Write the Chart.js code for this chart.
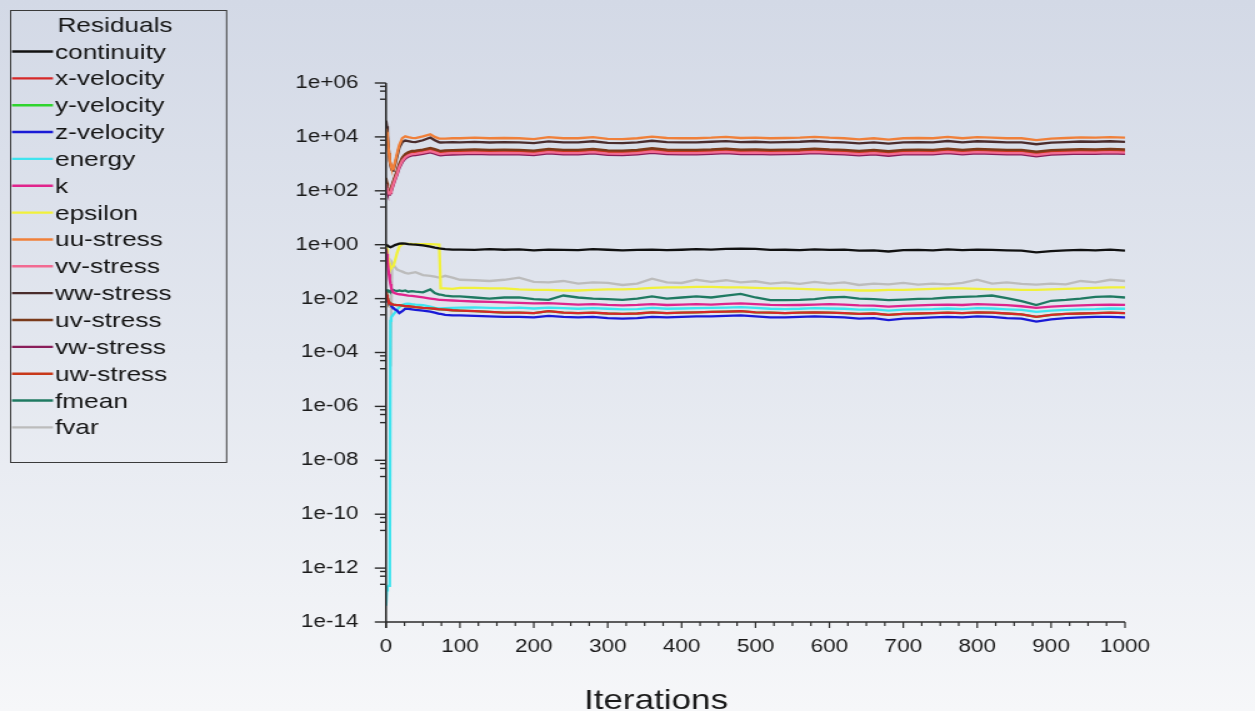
<!DOCTYPE html>
<html>
<head>
<meta charset="utf-8">
<title>Residuals</title>
<script src="https://cdn.jsdelivr.net/npm/chart.js@4.4.1/dist/chart.umd.min.js"></script>
<style>
  html, body {
    margin: 0;
    padding: 0;
    width: 1255px;
    height: 711px;
    overflow: hidden;
    background: linear-gradient(to bottom, #d3d9e6 0%, #e3e7ef 50%, #f6f7f9 100%);
  }
  canvas { display: block; }
</style>
</head>
<body>
<!-- the plot is laid out on a 1004px-wide bitmap and shown 1255px wide -->
<canvas id="plot" width="1004" height="711" style="width:1255px;height:711px"></canvas>
<script>
// ---- iteration numbers at which residuals are sampled ----
const iterations = [0,1,2,3,4,5,6,7,8,10,12,15,18,22,26,30,35,40,50,60,66,72,74,80,90,
  100,120,140,160,180,200,220,240,260,280,300,320,340,360,380,400,420,440,460,480,500,
  520,540,560,580,600,620,640,660,680,700,720,740,760,780,800,820,840,860,880,900,920,940,960,980,1000];

// ---- residual histories ----
const continuity = [1.0,0.97,0.93,0.88,0.85,0.83,0.82,0.82,0.84,0.9,0.97,1.03,1.1,1.12,1.1,1.05,1.02,1.0,0.95,0.85,0.78,0.73,0.72,0.68,0.66,
  0.66,0.64,0.68,0.65,0.67,0.62,0.66,0.64,0.63,0.68,0.65,0.62,0.64,0.66,0.63,0.65,0.68,0.66,0.70,0.72,0.70,0.64,0.65,0.63,0.67,
  0.64,0.66,0.60,0.62,0.56,0.63,0.64,0.62,0.67,0.63,0.66,0.64,0.62,0.60,0.52,0.58,0.62,0.64,0.62,0.66,0.60];
const xVelocity = [0.018,0.014,0.011,0.009,0.0075,0.007,0.0067,0.0065,0.0063,0.006,0.0058,0.0057,0.0057,0.0055,0.0053,0.0052,0.005,0.0048,0.0045,0.0043,0.0042,0.004,0.004,0.0039,0.0037,
  0.0036,0.0034,0.0032,0.003,0.003,0.0029,0.0034,0.003,0.0029,0.003,0.0028,0.0027,0.0028,0.0031,0.0029,0.003,0.0031,0.0032,0.0033,0.0034,0.0031,
  0.003,0.0029,0.003,0.0031,0.003,0.0029,0.0027,0.0028,0.0025,0.0027,0.0028,0.0029,0.003,0.0029,0.0031,0.003,0.0028,0.0026,0.0021,0.0025,0.0027,0.0028,0.0029,0.003,0.0029];
const yVelocity = [0.018,0.014,0.011,0.009,0.0075,0.007,0.0067,0.0065,0.0063,0.006,0.0058,0.0057,0.0057,0.0055,0.0053,0.0052,0.005,0.0048,0.0045,0.0043,0.0042,0.004,0.004,0.0039,0.0037,
  0.0036,0.0034,0.0032,0.003,0.003,0.0029,0.0034,0.003,0.0029,0.003,0.0028,0.0027,0.0028,0.0031,0.0029,0.003,0.0031,0.0032,0.0033,0.0034,0.0031,
  0.003,0.0029,0.003,0.0031,0.003,0.0029,0.0027,0.0028,0.0025,0.0027,0.0028,0.0029,0.003,0.0029,0.0031,0.003,0.0028,0.0026,0.0021,0.0025,0.0027,0.0028,0.0029,0.003,0.0029];
const zVelocity = [0.01,0.0095,0.0085,0.0075,0.007,0.0065,0.006,0.0055,0.005,0.0045,0.004,0.0036,0.0029,0.0034,0.0042,0.0042,0.004,0.0038,0.0036,0.0033,0.003,0.0027,0.0027,0.0025,0.0024,
  0.0024,0.0023,0.0022,0.0021,0.0021,0.002,0.0023,0.0021,0.002,0.0021,0.0019,0.0018,0.0019,0.0021,0.002,0.0021,0.0022,0.0022,0.0023,0.0024,0.0022,
  0.002,0.002,0.0021,0.0022,0.0021,0.002,0.0018,0.0019,0.0016,0.0018,0.0019,0.002,0.0021,0.002,0.0022,0.0021,0.0019,0.0018,0.0014,0.0017,0.0019,0.002,0.0021,0.0021,0.002];
const energy = [4e-14,1.5e-13,2e-13,2.2e-13,2.2e-13,2.5e-13,0.0015,0.002,0.0022,0.0026,0.003,0.004,0.0048,0.0058,0.0064,0.0065,0.0062,0.006,0.0057,0.005,0.0045,0.0043,0.0043,0.0044,0.0045,
  0.0046,0.0047,0.0045,0.0044,0.0046,0.0043,0.0046,0.0044,0.0042,0.0044,0.0042,0.004,0.0041,0.0045,0.0042,0.0043,0.0044,0.0045,0.0046,0.0048,0.0045,
  0.0042,0.0041,0.0042,0.0044,0.0043,0.0042,0.0039,0.004,0.0036,0.0039,0.004,0.0041,0.0043,0.0041,0.0044,0.0043,0.004,0.0038,0.0032,0.0036,0.0038,0.004,0.0041,0.0043,0.0042];
const kResid = [0.7,0.45,0.25,0.13,0.08,0.05,0.035,0.026,0.021,0.017,0.016,0.015,0.0145,0.014,0.0135,0.013,0.0125,0.012,0.011,0.01,0.0095,0.009,0.009,0.0088,0.0085,
  0.0082,0.0078,0.0075,0.0072,0.007,0.0066,0.0068,0.0064,0.006,0.0062,0.0058,0.0056,0.0058,0.0062,0.0058,0.006,0.0062,0.006,0.0064,0.0066,0.0062,
  0.0058,0.0057,0.0058,0.006,0.0062,0.006,0.0056,0.0055,0.005,0.0054,0.0056,0.0058,0.006,0.0058,0.0062,0.006,0.0057,0.0052,0.0045,0.005,0.0054,0.0056,0.0058,0.006,0.0058];
const epsilon = [1.0,0.7,0.45,0.3,0.22,0.18,0.16,0.15,0.15,0.16,0.25,0.5,0.85,1.05,1.08,1.08,1.06,1.05,1.05,1.04,1.02,1.0,0.024,0.024,0.023,
  0.025,0.025,0.024,0.024,0.022,0.021,0.021,0.02,0.02,0.021,0.022,0.022,0.023,0.025,0.026,0.026,0.027,0.027,0.026,0.026,0.025,
  0.024,0.024,0.023,0.022,0.021,0.021,0.02,0.02,0.021,0.021,0.022,0.023,0.024,0.024,0.023,0.022,0.022,0.021,0.021,0.022,0.023,0.024,0.025,0.026,0.026];
const uuStress = [20000,15000,9000,4500,2500,1400,1000,800,700,650,1100,2400,5000,9000,10500,9800,9200,9000,10500,12500,10000,8700,8600,8700,8900,
  8900,9320,8900,9100,8900,8300,9750,8900,8900,9750,8500,8300,8900,10200,9100,8900,8900,9320,10000,9100,9320,
  8900,9100,9320,10000,9320,8900,8120,8900,7930,8900,9100,8900,10000,8900,9750,9320,8900,8900,7570,8700,9100,9540,9320,9750,9320];
const vvStress = [180,130,100,85,78,80,88,105,125,180,260,430,780,1300,1750,2050,2300,2350,2600,2950,2650,2350,2300,2400,2480,
  2500,2620,2480,2560,2500,2330,2740,2500,2520,2740,2390,2330,2500,2870,2560,2500,2500,2620,2800,2560,2620,
  2500,2560,2620,2800,2620,2500,2280,2500,2230,2500,2560,2500,2800,2500,2740,2620,2500,2500,2130,2440,2560,2680,2620,2740,2620];
const wwStress = [40000,25000,12000,5000,2500,1300,900,700,600,570,900,1900,4000,6500,7300,7000,6500,6400,7500,9500,7500,6300,6200,6300,6400,
  6300,6500,6200,6450,6300,5900,6850,6250,6300,6900,6000,5850,6300,7200,6400,6250,6300,6600,7000,6450,6600,
  6300,6400,6600,7050,6550,6250,5750,6300,5600,6300,6450,6250,7050,6300,6900,6600,6250,6300,5350,6100,6400,6750,6600,6900,6500];
const uvStress = [300,200,140,110,100,100,110,130,160,230,330,550,1000,1700,2300,2700,3000,3100,3400,3900,3500,3100,3050,3150,3250,
  3300,3450,3300,3370,3300,3080,3620,3300,3300,3620,3150,3080,3300,3790,3370,3300,3300,3450,3700,3370,3450,
  3300,3370,3450,3700,3450,3300,3010,3300,2940,3300,3370,3300,3700,3300,3620,3450,3300,3300,2810,3220,3370,3540,3450,3620,3450];
const vwStress = [140,110,90,78,72,75,82,95,115,165,240,400,700,1150,1550,1850,2050,2100,2350,2650,2400,2100,2080,2150,2220,
  2250,2350,2250,2300,2250,2100,2460,2250,2250,2460,2150,2100,2250,2580,2300,2250,2250,2350,2520,2300,2350,
  2250,2300,2350,2520,2350,2250,2050,2250,2000,2250,2300,2250,2520,2250,2460,2350,2250,2250,1910,2200,2300,2410,2350,2460,2350];
const uwStress = [260,180,125,100,90,90,100,120,145,210,300,500,900,1550,2050,2400,2650,2750,3000,3450,3100,2750,2700,2800,2880,
  2900,3050,2880,2980,2900,2700,3150,2920,2890,3180,2770,2700,2900,3330,2960,2900,2880,3040,3250,2960,3030,
  2900,2960,3040,3260,3030,2900,2640,2900,2580,2900,2960,2900,3250,2900,3180,3030,2900,2900,2470,2830,2960,3110,3030,3180,3030];
const fmean = [0.015,0.018,0.02,0.02,0.019,0.018,0.018,0.019,0.02,0.021,0.02,0.019,0.02,0.019,0.02,0.018,0.019,0.018,0.017,0.022,0.016,0.014,0.014,0.013,0.012,
  0.012,0.011,0.010,0.011,0.011,0.0095,0.009,0.013,0.011,0.010,0.0095,0.009,0.010,0.012,0.010,0.011,0.012,0.011,0.013,0.015,0.011,
  0.0088,0.0088,0.009,0.0095,0.011,0.0115,0.010,0.0095,0.0088,0.0092,0.0098,0.010,0.011,0.0115,0.012,0.013,0.0105,0.008,0.0058,0.0083,0.009,0.010,0.0115,0.012,0.011];
const fvar = [null,null,null,null,null,null,3e-5,3e-5,0.22,0.18,0.15,0.12,0.11,0.1,0.09,0.085,0.09,0.095,0.075,0.07,0.065,0.06,0.062,0.07,0.06,
  0.05,0.048,0.045,0.05,0.06,0.042,0.04,0.045,0.036,0.04,0.038,0.032,0.036,0.055,0.04,0.038,0.05,0.042,0.048,0.04,0.044,
  0.036,0.04,0.035,0.042,0.036,0.04,0.032,0.036,0.034,0.038,0.033,0.036,0.034,0.038,0.05,0.036,0.04,0.035,0.033,0.036,0.034,0.045,0.04,0.05,0.045];

// ---- axis tick labels ----
const yTickLabels = ['1e+06','1e+04','1e+02','1e+00','1e-02','1e-04','1e-06','1e-08','1e-10','1e-12','1e-14'];
const xTickLabels = ['0','100','200','300','400','500','600','700','800','900','1000'];
const xAxisTitle = 'Iterations';
const yMinorFactors = [0.75, 0.5, 0.25];
const xMinorStep = 25;

const series = [
  { label: 'continuity', color: '#111111', values: continuity },
  { label: 'x-velocity', color: '#d62828', values: xVelocity },
  { label: 'y-velocity', color: '#2fd42f', values: yVelocity },
  { label: 'z-velocity', color: '#1a1ad6', values: zVelocity },
  { label: 'energy',     color: '#3fe4ef', values: energy },
  { label: 'k',          color: '#e0248c', values: kResid },
  { label: 'epsilon',    color: '#f1f13a', values: epsilon },
  { label: 'uu-stress',  color: '#f0803a', values: uuStress },
  { label: 'vv-stress',  color: '#f26a92', values: vvStress },
  { label: 'ww-stress',  color: '#4a2c2c', values: wwStress },
  { label: 'uv-stress',  color: '#7a3a1a', values: uvStress },
  { label: 'vw-stress',  color: '#8a1e5a', values: vwStress },
  { label: 'uw-stress',  color: '#c8381a', values: uwStress },
  { label: 'fmean',      color: '#1f7a62', values: fmean },
  { label: 'fvar',       color: '#bcbcbc', values: fvar }
];

// the bitmap is 1004px wide and displayed at 1255px
const STRETCH = 1255 / 1004;
const FONT = '"Liberation Sans", Arial, Helvetica, sans-serif';
Chart.defaults.font.family = FONT;

const AXIS_COLOR = '#2a2a2a';

// axis lines, tick marks, axis title and the boxed legend
const frameAndLegend = {
  id: 'frameAndLegend',
  afterDraw(chart) {
    const { ctx, chartArea: { left, right, top, bottom }, scales: { x, y } } = chart;
    ctx.save();
    ctx.strokeStyle = AXIS_COLOR;
    ctx.lineCap = 'butt';

    // y axis
    ctx.lineWidth = 1.6;
    ctx.beginPath();
    ctx.moveTo(left, top);
    ctx.lineTo(left, bottom + 6);
    ctx.stroke();
    // x axis
    ctx.lineWidth = 1.5;
    ctx.beginPath();
    ctx.moveTo(left, bottom);
    ctx.lineTo(right, bottom);
    ctx.stroke();

    // y ticks: long at labelled decades, short minors just below each
    ctx.lineWidth = 1.4;
    yTickLabels.forEach(lbl => {
      const v = Number(lbl);
      const py = y.getPixelForValue(v);
      ctx.beginPath();
      ctx.moveTo(left - 9, py);
      ctx.lineTo(left, py);
      ctx.stroke();
      yMinorFactors.forEach(f => {
        const mv = v * f;
        if (mv < y.min) return;
        const my = y.getPixelForValue(mv);
        ctx.beginPath();
        ctx.moveTo(left - 4.8, my);
        ctx.lineTo(left, my);
        ctx.stroke();
      });
    });

    // x ticks
    ctx.lineWidth = 1.2;
    for (let it = x.min; it <= x.max; it += xMinorStep) {
      const px = x.getPixelForValue(it);
      const len = (it % 100 === 0) ? 6 : 4;
      ctx.beginPath();
      ctx.moveTo(px, bottom);
      ctx.lineTo(px, bottom + len);
      ctx.stroke();
    }

    // x axis title
    ctx.fillStyle = '#1a1a1a';
    ctx.font = '28px ' + FONT;
    ctx.textAlign = 'center';
    ctx.textBaseline = 'alphabetic';
    ctx.fillText(xAxisTitle, 656 / STRETCH, 709);

    // legend box
    const bx0 = 10 / STRETCH, bx1 = 226 / STRETCH, by0 = 10, by1 = 462;
    ctx.lineWidth = 1;
    ctx.strokeStyle = '#3a3a3a';
    ctx.strokeRect(bx0 + 0.5, by0 + 0.5, bx1 - bx0, by1 - by0);

    ctx.fillStyle = '#151515';
    ctx.font = '21px ' + FONT;
    ctx.textAlign = 'center';
    ctx.fillText('Residuals', 115 / STRETCH, 32);

    ctx.textAlign = 'left';
    chart.data.datasets.forEach((ds, i) => {
      const ly = 51.5 + 26.85 * i;
      ctx.strokeStyle = ds.borderColor;
      ctx.lineWidth = 2.4;
      ctx.beginPath();
      ctx.moveTo(12 / STRETCH, ly);
      ctx.lineTo(53 / STRETCH, ly);
      ctx.stroke();
      ctx.fillStyle = '#151515';
      ctx.fillText(ds.label, 55 / STRETCH, ly + 7);
    });
    ctx.restore();
  }
};

new Chart(document.getElementById('plot'), {
  type: 'line',
  data: {
    datasets: series.map(s => ({
      label: s.label,
      data: iterations.map((it, i) => ({ x: it, y: s.values[i] })),
      borderColor: s.color,
      backgroundColor: s.color,
      borderWidth: 2.3,
      pointRadius: 0,
      fill: false,
      tension: 0,
      spanGaps: false
    }))
  },
  options: {
    responsive: false,
    devicePixelRatio: 1,
    animation: false,
    layout: { padding: { top: 83, right: 1004 - 1125 / STRETCH, left: 0, bottom: 0 } },
    plugins: { legend: { display: false }, tooltip: { enabled: false } },
    scales: {
      x: {
        type: 'linear',
        min: 0,
        max: 1000,
        afterBuildTicks: s => { s.ticks = xTickLabels.map(l => ({ value: Number(l) })); },
        afterFit: s => { s.height = 711 - 622; },
        ticks: {
          autoSkip: false,
          maxRotation: 0,
          padding: 14,
          color: '#1a1a1a',
          font: { size: 18 },
          callback: v => xTickLabels.find(l => Number(l) === v) ?? ''
        },
        grid: { display: false, drawTicks: false },
        border: { display: false }
      },
      y: {
        type: 'logarithmic',
        min: 1e-14,
        max: 1e6,
        afterBuildTicks: s => { s.ticks = yTickLabels.map(l => ({ value: Number(l) })); },
        afterFit: s => { s.width = 386 / STRETCH; },
        ticks: {
          autoSkip: false,
          padding: 22,
          color: '#1a1a1a',
          font: { size: 18 },
          callback: v => yTickLabels.find(l => Number(l) === v) ?? ''
        },
        grid: { display: false, drawTicks: false },
        border: { display: false }
      }
    }
  },
  plugins: [frameAndLegend]
});
</script>
</body>
</html>
